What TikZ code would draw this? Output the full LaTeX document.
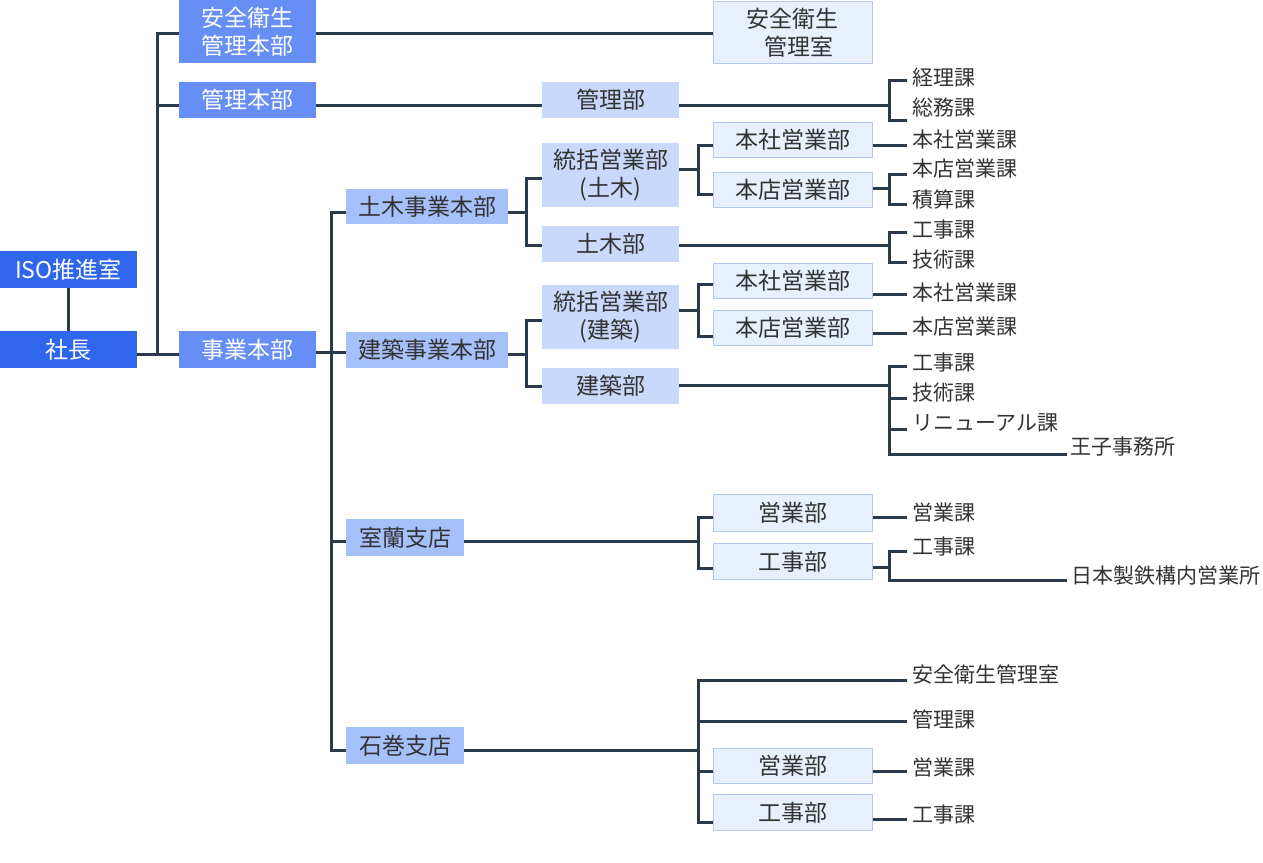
\documentclass[tikz,border=0pt]{standalone}
\usepackage{fontspec}
\setmainfont{Noto Sans CJK JP}
\pgfdeclarelayer{bg}
\pgfsetlayers{bg,main}
\definecolor{cdark}{HTML}{2F66EB}
\definecolor{cmid}{HTML}{668EF5}
\definecolor{clta}{HTML}{A6C0FA}
\definecolor{cltb}{HTML}{C8D9FB}
\definecolor{cltc}{HTML}{E8F0FD}
\definecolor{cltcb}{HTML}{B3C6EE}
\definecolor{cline}{HTML}{2B3A4B}
\definecolor{ctext}{HTML}{333333}
\begin{document}
\begin{tikzpicture}[x=1pt,y=-1pt,
  box/.style={inner sep=0pt, align=center, font=\fontsize{23}{28}\selectfont, text=ctext},
  dk/.style={box, fill=cdark, text=white, minimum width=137pt},
  md/.style={box, fill=cmid, text=white, minimum width=137pt},
  lta/.style={box, fill=clta, minimum width=118pt},
  ltb/.style={box, fill=cltb, minimum width=137pt},
  ltc/.style={box, fill=cltc, draw=cltcb, line width=1pt, minimum width=159pt},
  leaf/.style={anchor=west, inner xsep=7pt, inner ysep=0pt, font=\fontsize{21}{24}\selectfont, text=ctext},
  conn/.style={line width=3pt, draw=cline, line cap=rect}]
\useasboundingbox (0,0) rectangle (1263,862);
% level 0
\node[dk, minimum height=37pt] (iso) at (68.5,269.5) {ISO推進室};
\node[dk, minimum height=37pt] (ceo) at (68.5,349.5) {社長};
% level 1
\node[md, minimum height=63pt] (anzenhq) at (247.5,31.5) {安全衛生\\管理本部};
\node[md, minimum height=36pt] (kanrihq) at (247.5,100) {管理本部};
\node[md, minimum height=37pt] (jigyohq) at (247.5,349.5) {事業本部};
% level 2
\node[lta, minimum width=162pt, minimum height=35pt] (doboku) at (427,206.5) {土木事業本部};
\node[lta, minimum width=162pt, minimum height=36pt] (kenchiku) at (427,350) {建築事業本部};
\node[lta, minimum height=37pt] (muroran) at (405,537.5) {室蘭支店};
\node[lta, minimum height=37pt] (ishinomaki) at (405,745.5) {石巻支店};
% level 3
\node[ltb, minimum height=36pt] (kanribu) at (610.5,100) {管理部};
\node[ltb, minimum height=64pt] (toukatsuD) at (610.5,175) {統括営業部\\(土木)};
\node[ltb, minimum height=36pt] (dobokubu) at (610.5,244) {土木部};
\node[ltb, minimum height=64pt] (toukatsuK) at (610.5,317) {統括営業部\\(建築)};
\node[ltb, minimum height=36pt] (kenchikubu) at (610.5,386) {建築部};
% level 4
\node[ltc, minimum height=62pt] (anzenshitsu) at (792.5,32.5) {安全衛生\\\hspace{12pt}管理室};
\node[ltc, minimum height=35pt] (honshaD) at (792.5,140) {本社営業部};
\node[ltc, minimum height=35pt] (hontenD) at (792.5,189.5) {本店営業部};
\node[ltc, minimum height=35pt] (honshaK) at (792.5,281) {本社営業部};
\node[ltc, minimum height=35pt] (hontenK) at (792.5,328) {本店営業部};
\node[ltc, minimum height=37pt] (eigyoM) at (792.5,513) {営業部};
\node[ltc, minimum height=36pt] (kojiM) at (792.5,561.5) {工事部};
\node[ltc, minimum height=35pt] (eigyoI) at (792.5,766) {営業部};
\node[ltc, minimum height=36pt] (kojiI) at (792.5,812.5) {工事部};
% leaves
\node[leaf] (keiri) at (905,78) {経理課};
\node[leaf] (somu) at (905,108) {総務課};
\node[leaf] (honshaKa1) at (905,140) {本社営業課};
\node[leaf] (hontenKa1) at (905,169) {本店営業課};
\node[leaf] (sekisan) at (905,200) {積算課};
\node[leaf] (kojiKa1) at (905,230) {工事課};
\node[leaf] (gijutsu1) at (905,260) {技術課};
\node[leaf] (honshaKa2) at (905,293) {本社営業課};
\node[leaf] (hontenKa2) at (905,327) {本店営業課};
\node[leaf] (kojiKa2) at (905,363) {工事課};
\node[leaf] (gijutsu2) at (905,393) {技術課};
\node[leaf] (renewal) at (905,423) {リニューアル課};
\node[leaf, inner xsep=5pt] (oji) at (1065,447) {王子事務所};
\node[leaf] (eigyoKaM) at (905,513) {営業課};
\node[leaf] (kojiKaM) at (905,547) {工事課};
\node[leaf, inner xsep=6pt] (nippon) at (1065,576) {日本製鉄構内営業所};
\node[leaf] (anzenI) at (905,674) {安全衛生管理室};
\node[leaf] (kanriKaI) at (905,719) {管理課};
\node[leaf] (eigyoKaI) at (905,767) {営業課};
\node[leaf] (kojiKaI) at (905,815) {工事課};
% connectors
\begin{pgfonlayer}{bg}
\draw[conn] (iso.south) -- (ceo.north);
\coordinate (a1) at (157,33); \coordinate (a2) at (157,105); \coordinate (a3) at (157,354);
\draw[conn] (a1) -- (a3);
\draw[conn] (a1) -- (anzenhq.west |- a1);
\draw[conn] (a2) -- (kanrihq.west |- a2);
\draw[conn] (ceo.east |- a3) -- (jigyohq.west |- a3);
\draw[conn] (anzenhq.east |- a1) -- (anzenshitsu.west |- a1);
\draw[conn] (kanrihq.east |- a2) -- (kanribu.west |- a2);
% kanribu
\coordinate (k1) at (889,80); \coordinate (k2) at (889,120); \coordinate (km) at (889,105);
\draw[conn] (kanribu.east |- km) -- (km);
\draw[conn] (k1) -- (k2);
\draw[conn] (k1) -- (keiri.west |- k1);
\draw[conn] (k2) -- (somu.west |- k2);
% trunk B
\coordinate (b1) at (331,212); \coordinate (b2) at (331,352); \coordinate (b3) at (331,541); \coordinate (b4) at (331,750);
\draw[conn] (b1) -- (b4);
\draw[conn] (b1) -- (doboku.west |- b1);
\draw[conn] (jigyohq.east |- b2) -- (kenchiku.west |- b2);
\draw[conn] (b3) -- (muroran.west |- b3);
\draw[conn] (b4) -- (ishinomaki.west |- b4);
% doboku
\coordinate (c1) at (526,178); \coordinate (c2) at (526,245); \coordinate (cm) at (526,212);
\draw[conn] (doboku.east |- cm) -- (cm);
\draw[conn] (c1) -- (c2);
\draw[conn] (c1) -- (toukatsuD.west |- c1);
\draw[conn] (c2) -- (dobokubu.west |- c2);
% toukatsuD
\coordinate (d1) at (698,145); \coordinate (d2) at (698,194); \coordinate (dm) at (698,169);
\draw[conn] (toukatsuD.east |- dm) -- (dm);
\draw[conn] (d1) -- (d2);
\draw[conn] (d1) -- (honshaD.west |- d1);
\draw[conn] (d2) -- (hontenD.west |- d2);
\draw[conn] (honshaD.east |- d1) -- (honshaKa1.west |- d1);
% hontenD
\coordinate (e1) at (889,174); \coordinate (e2) at (889,204); \coordinate (em) at (889,188);
\draw[conn] (hontenD.east |- em) -- (em);
\draw[conn] (e1) -- (e2);
\draw[conn] (e1) -- (hontenKa1.west |- e1);
\draw[conn] (e2) -- (sekisan.west |- e2);
% dobokubu
\coordinate (f1) at (889,232); \coordinate (f2) at (889,262); \coordinate (fm) at (889,245);
\draw[conn] (dobokubu.east |- fm) -- (fm);
\draw[conn] (f1) -- (f2);
\draw[conn] (f1) -- (kojiKa1.west |- f1);
\draw[conn] (f2) -- (gijutsu1.west |- f2);
% kenchiku
\coordinate (g1) at (526,320); \coordinate (g2) at (526,386); \coordinate (gm) at (526,354);
\draw[conn] (kenchiku.east |- gm) -- (gm);
\draw[conn] (g1) -- (g2);
\draw[conn] (g1) -- (toukatsuK.west |- g1);
\draw[conn] (g2) -- (kenchikubu.west |- g2);
% toukatsuK
\coordinate (h1) at (698,284); \coordinate (h2) at (698,336); \coordinate (hm) at (698,310);
\draw[conn] (toukatsuK.east |- hm) -- (hm);
\draw[conn] (h1) -- (h2);
\draw[conn] (h1) -- (honshaK.west |- h1);
\draw[conn] (h2) -- (hontenK.west |- h2);
\coordinate (hs) at (880,294); \coordinate (ht) at (880,333);
\draw[conn] (honshaK.east |- hs) -- (honshaKa2.west |- hs);
\draw[conn] (hontenK.east |- ht) -- (hontenKa2.west |- ht);
% kenchikubu
\coordinate (i1) at (889,366); \coordinate (i2) at (889,398); \coordinate (i3) at (889,429); \coordinate (i4) at (889,454); \coordinate (im) at (889,385);
\draw[conn] (kenchikubu.east |- im) -- (im);
\draw[conn] (i1) -- (i4);
\draw[conn] (i1) -- (kojiKa2.west |- i1);
\draw[conn] (i2) -- (gijutsu2.west |- i2);
\draw[conn] (i3) -- (renewal.west |- i3);
\draw[conn] (i4) -- (oji.west |- i4);
% muroran
\coordinate (j1) at (698,517); \coordinate (j2) at (698,568); \coordinate (jm) at (698,541);
\draw[conn] (muroran.east |- jm) -- (jm);
\draw[conn] (j1) -- (j2);
\draw[conn] (j1) -- (eigyoM.west |- j1);
\draw[conn] (j2) -- (kojiM.west |- j2);
\draw[conn] (eigyoM.east |- j1) -- (eigyoKaM.west |- j1);
% kojiM
\coordinate (l1) at (889,551); \coordinate (l2) at (889,580); \coordinate (lm) at (889,567);
\draw[conn] (kojiM.east |- lm) -- (lm);
\draw[conn] (l1) -- (l2);
\draw[conn] (l1) -- (kojiKaM.west |- l1);
\draw[conn] (l2) -- (nippon.west |- l2);
% ishinomaki
\coordinate (m1) at (698,680); \coordinate (m2) at (698,721); \coordinate (m3) at (698,771); \coordinate (m4) at (698,822); \coordinate (mm) at (698,750);
\draw[conn] (ishinomaki.east |- mm) -- (mm);
\draw[conn] (m1) -- (m4);
\draw[conn] (m1) -- (anzenI.west |- m1);
\draw[conn] (m2) -- (kanriKaI.west |- m2);
\draw[conn] (m3) -- (eigyoI.west |- m3);
\draw[conn] (m4) -- (kojiI.west |- m4);
\draw[conn] (eigyoI.east |- m3) -- (eigyoKaI.west |- m3);
\coordinate (n4) at (880,819);
\draw[conn] (kojiI.east |- n4) -- (kojiKaI.west |- n4);
\end{pgfonlayer}
\end{tikzpicture}
\end{document}
